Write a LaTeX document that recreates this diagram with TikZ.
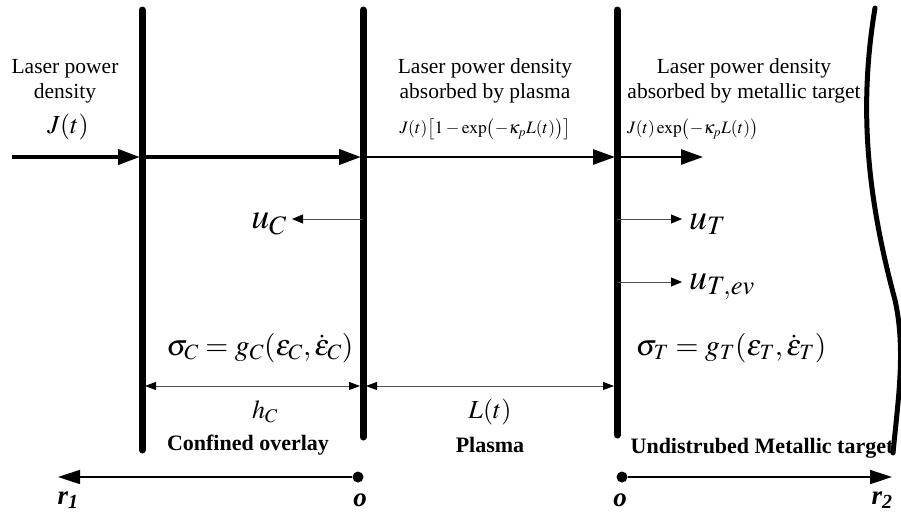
\documentclass[tikz,border=0pt]{standalone}
\usepackage{mathptmx}
\usepackage{fontspec}
\setmainfont{Liberation Serif}
\usetikzlibrary{arrows.meta}

\begin{document}
\begin{tikzpicture}[x=1pt,y=-1pt,
    wall/.style={line width=7pt,line cap=round},
    beam/.style={line width=4pt,-{Triangle[length=22pt,width=15pt]}},
    thinbeam/.style={line width=2.6pt,-{Triangle[length=22pt,width=15pt]}},
    vel/.style={line width=0.8pt,black!70,-{Triangle[length=11pt,width=9pt,black]}},
    dim/.style={line width=0.8pt,black!70,{Triangle[length=11pt,width=8pt,black]}-{Triangle[length=11pt,width=8pt,black]}},
    axisline/.style={line width=1.6pt,-{Triangle[length=22pt,width=14pt]}},
    dot/.style={circle,fill=black,inner sep=0pt,minimum size=11pt},
    txt/.style={font=\fontsize{21.5}{25}\selectfont,align=center,inner sep=0pt},
    zone/.style={font=\fontsize{22}{25}\selectfont\bfseries,inner sep=1pt},
    small/.style={font=\fontsize{17.5}{20}\selectfont,inner sep=0pt},
    mth/.style={font=\fontsize{26}{29}\selectfont,inner sep=1pt},
    law/.style={font=\fontsize{29.5}{32}\selectfont,inner sep=1pt},
    big/.style={font=\fontsize{36}{40}\selectfont,inner sep=1pt},
    axlbl/.style={font=\fontsize{27}{30}\selectfont\bfseries\itshape,inner sep=1pt}]

  \useasboundingbox (0,0) rectangle (901,517);

  % walls
  \coordinate (w1t) at (142,10);  \coordinate (w1b) at (142,450);
  \coordinate (w2t) at (363,10);  \coordinate (w2b) at (363,437);
  \coordinate (w3t) at (617,10);  \coordinate (w3b) at (617,435);
  \coordinate (ct) at (875,8);    \coordinate (cb) at (893,453);

  % laser beam
  \coordinate (src) at (12,157);
  \coordinate (b1) at (140,157);
  \coordinate (b2) at (361,157);
  \coordinate (b3) at (615,157);
  \coordinate (b4) at (703,157);
  \draw[beam] (src) -- (b1);
  \draw[beam] (b1) -- (b2);
  \draw[thinbeam] (b2) -- (b3);
  \draw[thinbeam] (b3) -- (b4);

  \draw[wall] (w1t) -- (w1b);
  \draw[wall] (w2t) -- (w2b);
  \draw[wall] (w3t) -- (w3b);
  \draw[line width=5pt,line cap=round] (ct) .. controls (858,110) and (868,200) .. (895,300)
        .. controls (906,350) and (898,400) .. (cb);

  % beam labels
  \node[txt] (inlbl) at (65,81) {Laser power\\density};
  \node[mth] (jin) at (68,127) {$J(t)$};
  \node[txt] (plbl) at (485,81) {Laser power density\\absorbed by plasma};
  \node[small] (pj) at (485,129) {$J(t)\bigl[1-\exp\bigl(-\kappa_p L(t)\bigr)\bigr]$};
  \node[txt] (tlbl) at (744,81) {Laser power density\\absorbed by metallic target};
  \node[small,anchor=west] (tj) at (627,129) {$J(t)\exp\bigl(-\kappa_p L(t)\bigr)$};

  % velocities
  \coordinate (uc0) at (363,219);  \coordinate (uc1) at (292,219);
  \coordinate (ut0) at (617,219);  \coordinate (ut1) at (682,219);
  \coordinate (ue0) at (617,282);  \coordinate (ue1) at (682,282);
  \draw[vel] (uc0) -- (uc1);
  \draw[vel] (ut0) -- (ut1);
  \draw[vel] (ue0) -- (ue1);
  \node[big,anchor=east] (uc) at (288,224) {$u_C$};
  \node[big,anchor=west] (ut) at (688,224) {$u_T$};
  \node[big,anchor=west] (ue) at (688,287) {$u_{T,ev}$};

  % constitutive laws
  \node[law] (sc) at (260,348) {$\sigma_C = g_C(\varepsilon_C,\dot{\varepsilon}_C)$};
  \node[law] (st) at (731,348) {$\sigma_T = g_T(\varepsilon_T,\dot{\varepsilon}_T)$};

  % thicknesses
  \coordinate (d1) at (145,386);  \coordinate (d2) at (360,386);
  \coordinate (d3) at (366,386);  \coordinate (d4) at (614,386);
  \draw[dim] (d1) -- (d2);
  \draw[dim] (d3) -- (d4);
  \node[mth] (hc) at (265,412) {$h_C$};
  \node[mth] (lt) at (490,412) {$L(t)$};

  % zones
  \node[zone] (conf) at (248,445) {Confined overlay};
  \node[zone] (plas) at (490,445) {Plasma};
  \node[zone] (targ) at (762,448) {Undistrubed Metallic target};

  % axes
  \node[dot] (o1) at (358,477) {};
  \node[dot] (o2) at (622,477) {};
  \coordinate (r1e) at (58,477);
  \coordinate (r2e) at (892,477);
  \draw[axisline] (o1) -- (r1e);
  \draw[axisline] (o2) -- (r2e);
  \node[axlbl] (r1) at (68,500) {r\textsubscript{1}};
  \node[axlbl] (o1l) at (360,500) {o};
  \node[axlbl] (o2l) at (620,500) {o};
  \node[axlbl] (r2) at (882,500) {r\textsubscript{2}};
\end{tikzpicture}
\end{document}
